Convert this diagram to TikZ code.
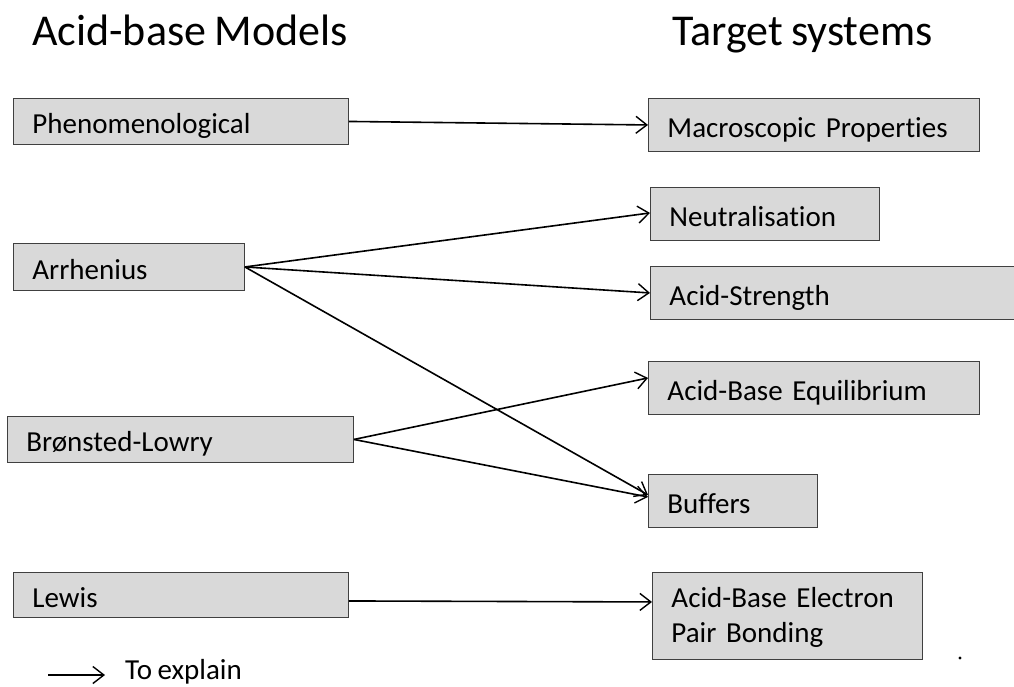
\documentclass[tikz,border=0pt]{standalone}
\usepackage{fontspec}
\setmainfont{Carlito}[Ligatures=NoCommon, WordSpace=0.85]
\usetikzlibrary{arrows.meta}
\tikzset{
  model/.style={draw=black!75, line width=0.9pt, fill=black!15, rectangle,
    anchor=north west, inner xsep=19pt, inner ysep=0pt, align=left,
    text height=24.6pt, text depth=0pt,
    font=\fontsize{29}{35}\selectfont},
  title/.style={anchor=base west, inner sep=0pt, font=\fontsize{44}{50}\selectfont},
  explains/.style={line width=1.6pt, -{Straight Barb[length=11pt,width=17pt,line width=1.4pt]}},
}
\newcommand{\modelbox}[7][]{%
  \node[model, minimum width=#5pt, minimum height=#6pt, text width=#5pt-38pt, #1] (#2) at (#3,#4) {#7};}
\begin{document}
\begin{tikzpicture}[x=1pt,y=-1pt]
  \useasboundingbox (0,0) rectangle (1014,686);
  \clip (0,0) rectangle (1014,686);

  % column headings
  \node[title] (hmodels) at (32,45) {Acid-base Models};
  \node[title] (htargets) at (672,45) {Target systems};

  % acid-base models
  \modelbox{phen}{13}{98}{335}{46}{Phenomenological}
  \modelbox{arr}{13}{243}{231}{47}{Arrhenius}
  \modelbox{bl}{7}{416}{346}{46}{Brønsted-Lowry}
  \modelbox{lew}{13}{572}{335}{45}{Lewis}

  % target systems
  \modelbox{macro}{648}{98}{331}{53}{Macroscopic Properties}
  \modelbox{neut}{650}{187}{229}{53}{Neutralisation}
  \modelbox{strength}{650}{266}{380}{53}{Acid-Strength}
  \modelbox{equil}{648}{361}{331}{53}{Acid-Base Equilibrium}
  \modelbox{buff}{648}{474}{169}{53}{Buffers}
  \modelbox[text height=18.6pt, text depth=35pt]{pair}{652}{572}{270}{87}{Acid-Base Electron\\Pair Bonding}

  % explanatory links
  \draw[explains] (phen.east) -- (macro.west);
  \draw[explains] (arr.east) -- ([yshift=1pt]neut.west);
  \draw[explains] (arr.east) -- (strength.west);
  \draw[explains] (arr.east) -- ([yshift=6pt]buff.west);
  \draw[explains] (bl.east) -- ([yshift=10pt]equil.west);
  \draw[explains] (bl.east) -- ([yshift=4pt]buff.west);
  \draw[explains] ([yshift=-6pt]lew.east) -- ([yshift=14pt]pair.west);

  % legend
  \coordinate (legA) at (48,675);
  \coordinate (legB) at (105,675);
  \draw[explains] (legA) -- (legB);
  \node[anchor=base west, inner sep=0pt, font=\fontsize{29}{34}\selectfont] (legtext) at (125,679) {To explain};

  % stray dot
  \fill (960,658) circle (1.6);
\end{tikzpicture}
\end{document}
